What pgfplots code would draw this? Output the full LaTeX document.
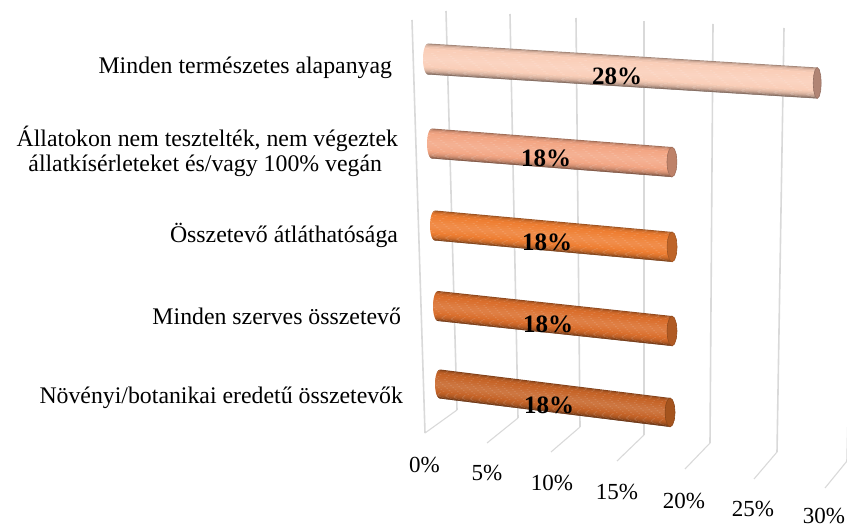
\documentclass[border=0pt]{standalone}
\usepackage{pgfplots}
\usepackage{fontspec}
\setmainfont{Liberation Serif}
\pgfplotsset{compat=1.18}
\definecolor{gridc}{RGB}{217,217,217}
\definecolor{barA}{RGB}{250,206,184}
\definecolor{barB}{RGB}{243,166,132}
\definecolor{barC}{RGB}{238,126,50}
\definecolor{barD}{RGB}{218,110,44}
\definecolor{barE}{RGB}{198,100,40}
\definecolor{capA}{RGB}{176,132,116}
\definecolor{capB}{RGB}{190,130,105}
\definecolor{capC}{RGB}{190,100,40}
\definecolor{capD}{RGB}{176,90,35}
\definecolor{capE}{RGB}{165,84,30}

% one band of the cylinder, s runs from -1 (upper edge) to 1 (lower edge)
\newcommand{\band}[4]{%
  \addplot[draw=none,fill=#4,mark=none,forget plot]
    table[row sep=\\,
      x expr=\barx+\thisrow{p}*\barsx-\thisrow{e}*5*sqrt(abs(1-\thisrow{s}*\thisrow{s})),
      y expr=\bary+\thisrow{p}*\barsy+\thisrow{s}*\barr]
    {p e s\\ 0 1 #2\\ #1 0 #2\\ #1 0 #3\\ 0 1 #3\\};}

% value, x0, y0, px per percent in x, in y, radius, cap half width, colour, cap colour
\newcommand{\cylbar}[9]{%
  \def\barx{#2}\def\bary{#3}\def\barsx{#4}\def\barsy{#5}\def\barr{#6}%
  \band{#1}{-1}{-0.93}{#8!65!black}%
  \band{#1}{-0.95}{-0.86}{#8!80!black}%
  \band{#1}{-0.88}{-0.78}{#8!90!black}%
  \band{#1}{-0.8}{-0.68}{#8!96!black}%
  \band{#1}{-0.7}{-0.53}{#8}%
  \band{#1}{-0.55}{-0.38}{#8!97!white}%
  \band{#1}{-0.4}{-0.26}{#8!94!white}%
  \band{#1}{-0.28}{-0.14}{#8!91!white}%
  \band{#1}{-0.16}{-0.02}{#8!89!white}%
  \band{#1}{-0.04}{0.1}{#8!88!white}%
  \band{#1}{0.08}{0.22}{#8!90!white}%
  \band{#1}{0.2}{0.34}{#8!93!white}%
  \band{#1}{0.32}{0.46}{#8!96!white}%
  \band{#1}{0.44}{0.56}{#8}%
  \band{#1}{0.54}{0.64}{#8!97!black}%
  \band{#1}{0.62}{0.72}{#8!93!black}%
  \band{#1}{0.7}{0.79}{#8!88!black}%
  \band{#1}{0.77}{0.85}{#8!82!black}%
  \band{#1}{0.83}{0.9}{#8!75!black}%
  \band{#1}{0.88}{0.95}{#8!67!black}%
  \band{#1}{0.93}{0.99}{#8!58!black}%
  \band{#1}{0.97}{1}{#8!50!black}%
  \addplot[draw=#9!85!black,line width=0.6pt,fill=#9,mark=none,forget plot]
    table[row sep=\\,
      x expr=#2+#1*#4+#7*cos(\thisrow{t}),
      y expr=#3+#1*#5+#6*sin(\thisrow{t})]
    {t\\ 0\\ 30\\ 60\\ 90\\ 120\\ 150\\ 180\\ 210\\ 240\\ 270\\ 300\\ 330\\ 360\\};}

\newcommand{\wall}[4]{\addplot[gridc,line width=1.6pt,mark=none,forget plot] coordinates {(#1,#2) (#3,#4)};}
\newcommand{\floor}[4]{\addplot[gridc,line width=1.1pt,mark=none,forget plot] coordinates {(#1,#2) (#3,#4)};}

\begin{document}
\begin{tikzpicture}[x=1pt,y=1pt]
\path[use as bounding box] (0,0) rectangle (847,527);
\begin{axis}[
  at={(0,0)},anchor=south west,
  scale only axis,width=847pt,height=527pt,
  xmin=0,xmax=847,ymin=0,ymax=527,y dir=reverse,
  hide axis,clip=true]

% back wall, side edge and floor lines, one for each 5 percent
\wall{412}{20}{425}{433}
\wall{446}{11}{457}{410}
\wall{510}{14}{518}{418}
\wall{576}{18}{580}{427}
\wall{644}{21}{644}{435}
\wall{713}{24}{710}{443}
\wall{784}{28}{777}{452}
\wall{857}{31}{847}{461}
\floor{425}{433}{457}{410}
\floor{487}{443}{518}{418}
\floor{551}{452}{580}{427}
\floor{617}{461}{644}{435}
\floor{685}{469}{710}{443}
\floor{754}{479}{777}{452}
\floor{825}{488}{847}{461}

\cylbar{28}{428}{59}{13.9}{0.857}{15.5}{4}{barA}{capA}
\cylbar{18}{432}{143.5}{13.33}{1.03}{15}{5}{barB}{capB}
\cylbar{18}{435}{225.5}{13.17}{1.19}{15}{5}{barC}{capC}
\cylbar{18}{438}{306}{13.0}{1.39}{15}{5}{barD}{capD}
\cylbar{18}{440}{384}{12.78}{1.58}{14.5}{5}{barE}{capE}

\end{axis}
% labels
\begin{scope}[every node/.style={inner sep=0pt,outer sep=0pt}]
\def\val#1#2#3{\node at (#1,527-#2) {\fontsize{25}{26}\selectfont\bfseries #3};}
\val{617}{76}{28\%}
\val{546}{158}{18\%}
\val{547}{242}{18\%}
\val{548}{324}{18\%}
\val{549}{405}{18\%}
\def\tick#1#2#3{\node at (#1,527-#2) {\fontsize{23}{26}\selectfont #3};}
\tick{424.5}{465.5}{0\%}
\tick{487}{473.5}{5\%}
\tick{552}{483.5}{10\%}
\tick{617}{492.5}{15\%}
\tick{684}{501.5}{20\%}
\tick{753}{509.5}{25\%}
\tick{824}{516}{30\%}
\def\cat#1#2#3{\node[anchor=base east] at (#1,527-#2) {\fontsize{23.8}{26}\selectfont #3};}
\cat{392}{74}{Minden természetes alapanyag}
\cat{398}{147}{Állatokon nem tesztelték, nem végeztek}
\cat{382}{172}{állatkísérleteket és/vagy 100\% vegán}
\cat{398}{243}{Összetevő átláthatósága}
\cat{401}{325}{Minden szerves összetevő}
\cat{403}{404}{Növényi/botanikai eredetű összetevők}
\end{scope}
\end{tikzpicture}
\end{document}
